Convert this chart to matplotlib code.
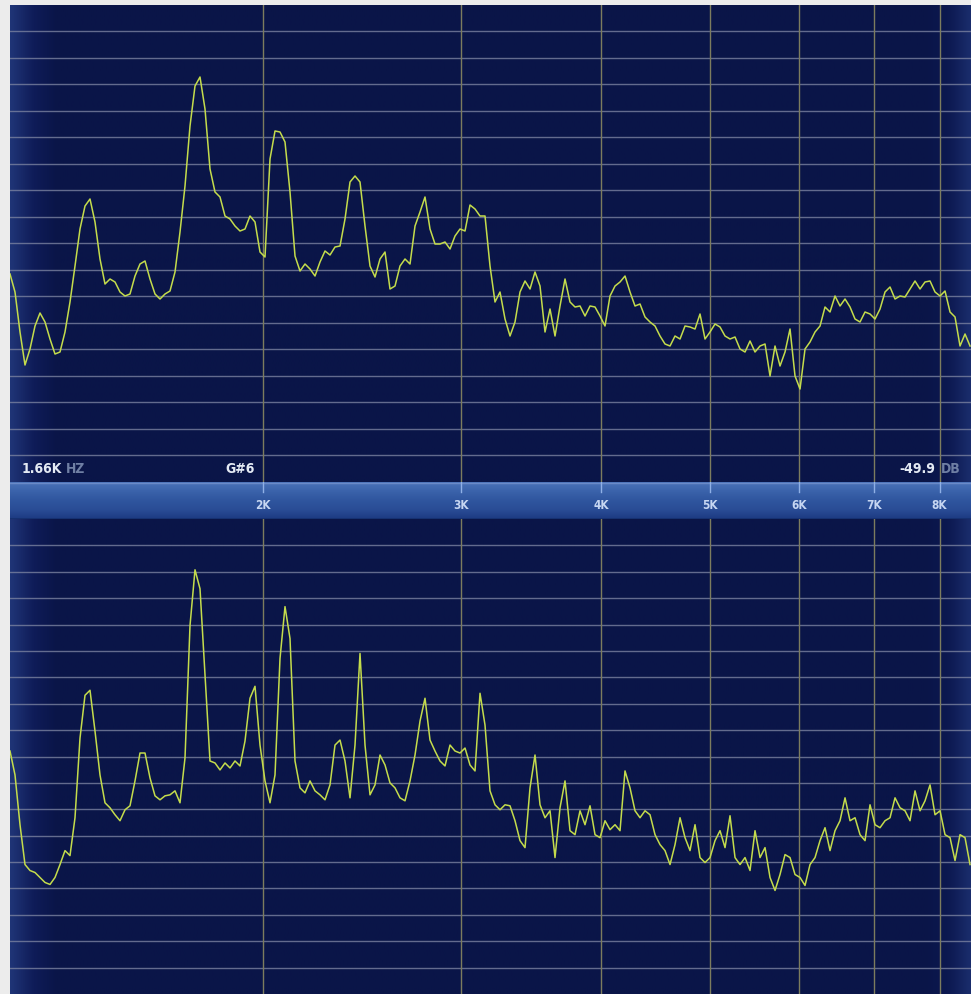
import numpy as np
import matplotlib
matplotlib.use("Agg")
import matplotlib.pyplot as plt
from matplotlib.colors import LinearSegmentedColormap

# analyzer bins (log spaced) and display span, Hz
F_LO, F_BIN_HI, F_HI = 1191.0, 8516.0, 8533.0

# upper trace: smoothed spectrum, dB
top_db = [
    -53.8, -57.4, -65.4, -72.0, -68.8, -64.2, -61.6, -63.4, -66.8, -69.8,
    -69.4, -65.4, -59.4, -52.2, -44.8, -40.2, -38.8, -43.4, -50.8, -55.8,
    -54.8, -55.4, -57.4, -58.2, -57.8, -54.2, -51.8, -51.2, -54.8, -57.8,
    -58.8, -57.8, -57.2, -53.4, -45.4, -36.2, -24.2, -16.2, -14.4, -20.8,
    -32.8, -37.4, -38.4, -42.2, -42.8, -44.2, -45.2, -44.8, -42.2, -43.4,
    -49.4, -50.4, -30.8, -25.2, -25.4, -27.4, -37.4, -50.2, -53.2, -51.8,
    -52.8, -54.2, -51.4, -49.2, -50.0, -48.4, -48.2, -42.8, -35.4, -34.2,
    -35.4, -44.2, -52.2, -54.4, -50.8, -49.4, -56.8, -56.2, -52.2, -50.8,
    -51.8, -44.2, -41.4, -38.4, -44.8, -47.8, -47.8, -47.4, -48.8, -46.2,
    -44.8, -45.2, -40.0, -40.8, -42.2, -42.2, -52.2, -59.4, -57.4, -62.8,
    -66.2, -63.4, -57.4, -55.2, -56.8, -53.4, -56.2, -65.4, -60.8, -66.2,
    -60.2, -54.8, -59.4, -60.4, -60.2, -62.2, -60.2, -60.4, -62.2, -64.2,
    -58.2, -56.2, -55.4, -54.2, -57.4, -60.2, -59.8, -62.4, -63.4, -64.2,
    -66.2, -67.8, -68.2, -66.2, -66.8, -64.2, -64.4, -64.8, -61.8, -66.8,
    -65.4, -63.8, -64.4, -66.2, -66.8, -66.4, -68.8, -69.4, -67.2, -69.4,
    -68.2, -67.8, -74.2, -68.2, -72.2, -69.4, -64.8, -74.2, -76.8, -68.8,
    -67.4, -65.4, -64.2, -60.4, -61.4, -58.2, -60.2, -58.8, -60.4, -62.8,
    -63.4, -61.4, -61.8, -62.8, -60.8, -57.4, -56.4, -58.8, -58.2, -58.4,
    -56.8, -55.2, -56.8, -55.4, -55.2, -57.4, -58.2, -57.2, -61.4, -62.4,
    -68.2, -65.8, -68.2,
]

# lower trace: sharper spectrum, dB
bottom_db = [
    -46.6, -51.4, -61.4, -69.4, -70.6, -71.0, -72.0, -73.0, -73.4, -72.0,
    -69.4, -66.6, -67.6, -60.0, -44.0, -35.4, -34.4, -42.6, -51.4, -57.0,
    -58.0, -59.4, -60.6, -58.4, -57.6, -52.6, -47.0, -47.0, -52.0, -55.6,
    -56.4, -55.6, -55.4, -54.6, -57.0, -48.0, -21.4, -10.2, -14.0, -31.4,
    -48.6, -49.0, -50.4, -49.0, -50.0, -48.6, -49.6, -44.6, -36.0, -33.6,
    -45.4, -52.6, -57.0, -51.4, -28.0, -17.6, -24.0, -48.6, -54.0, -55.0,
    -52.6, -54.6, -55.4, -56.4, -53.4, -45.4, -44.4, -48.6, -56.0, -45.4,
    -27.0, -45.4, -55.4, -53.4, -47.4, -49.4, -53.0, -54.0, -56.0, -56.6,
    -52.6, -47.4, -40.6, -36.0, -44.4, -46.6, -48.6, -49.6, -45.4, -46.6,
    -47.0, -46.0, -49.4, -50.6, -35.0, -41.4, -54.6, -57.4, -58.4, -57.4,
    -57.6, -60.6, -64.6, -66.0, -54.0, -47.4, -57.4, -60.0, -58.6, -68.0,
    -58.0, -52.6, -62.6, -63.4, -58.6, -61.4, -57.6, -63.4, -64.0, -60.6,
    -62.4, -61.4, -62.6, -50.6, -54.0, -58.6, -60.0, -58.6, -59.4, -63.4,
    -65.4, -66.6, -69.4, -65.4, -60.0, -64.0, -66.6, -61.4, -68.0, -69.0,
    -68.0, -64.6, -62.6, -66.0, -59.6, -68.0, -69.4, -68.0, -70.6, -62.6,
    -68.0, -66.0, -72.0, -74.6, -71.4, -67.4, -68.0, -71.4, -72.0, -73.6,
    -69.4, -68.0, -64.6, -62.0, -66.6, -62.6, -60.6, -56.0, -60.6, -60.0,
    -63.4, -64.6, -57.4, -61.4, -62.0, -60.6, -60.0, -56.0, -58.0, -58.6,
    -60.6, -54.6, -58.6, -56.6, -53.4, -59.4, -58.6, -63.4, -64.0, -68.6,
    -63.4, -64.0, -69.4,
]

freq_ticks = [2000, 3000, 4000, 5000, 6000, 7000, 8000]
freq_labels = ["2K", "3K", "4K", "5K", "6K", "7K", "8K"]

readout_freq, readout_unit = "1.66K", "HZ"
readout_note = "G#6"
readout_level, level_unit = "-49.9", "DB"

DB_MIN, GRID_DB, N_GRID = -95.4, 5.3, 17

W, H = 971, 995
FONT = dict(family=["DejaVu Sans"], fontweight="bold", fontstretch="condensed")
LINE_COL = "#c4dc4c"

fig = plt.figure(figsize=(W / 100, H / 100), dpi=100, facecolor="#ececec")


def px_axes(x0, y0, x1, y1):
    return fig.add_axes([x0 / W, 1 - y1 / H, (x1 - x0) / W, (y1 - y0) / H])


navy = LinearSegmentedColormap.from_list(
    "navy", ["#1f3476", "#0f1c58", "#0a1548", "#0a1548", "#0c1850", "#1a2d6c"])
grad_x = np.concatenate([np.linspace(0, 0.4, 22), np.full(400, 0.5),
                         np.linspace(0.6, 1.0, 22)])


def panel(ax, trace):
    ax.set_xscale("log")
    ax.set_xlim(F_LO, F_HI)
    ax.set_ylim(DB_MIN, 0)
    ax.imshow(grad_x[None, :], cmap=navy, vmin=0, vmax=1, aspect="auto",
              extent=[0, 1, 0, 1], transform=ax.transAxes, zorder=0)
    for k in range(1, N_GRID + 1):
        ax.axhline(-GRID_DB * k, color="#7a82a0", lw=1.0, alpha=0.8, zorder=1)
    for f in freq_ticks:
        ax.axvline(f, color="#7c7c5e", lw=1.0, zorder=1)
    freqs = np.geomspace(F_LO, F_BIN_HI, len(trace))
    ax.plot(freqs, trace, color=LINE_COL, lw=1.1, zorder=3)
    ax.set_xticks([])
    ax.set_yticks([])
    ax.minorticks_off()
    for s in ax.spines.values():
        s.set_visible(False)


ax_top = px_axes(10, 6, W, 483)
panel(ax_top, top_db)

ax_bot = px_axes(10, 520, W, H)
panel(ax_bot, bottom_db)

# readouts in the bottom row of the upper panel
ty = DB_MIN + 2.7
t_freq = ax_top.text(1220, ty, readout_freq, color="#e4eaf4", fontsize=10,
                     va="center", ha="left", zorder=4, **FONT)
ax_top.annotate(readout_unit, xy=(1, 0.5), xycoords=t_freq, xytext=(3, 0),
                textcoords="offset points", color="#6f7fa4", fontsize=10,
                va="center", ha="left", zorder=4, **FONT)
ax_top.text(1965, ty, readout_note, color="#e4eaf4", fontsize=10,
            va="center", ha="right", zorder=4, **FONT)
ax_top.text(7926, ty, readout_level, color="#e4eaf4", fontsize=10,
            va="center", ha="right", zorder=4, **FONT)
ax_top.text(8030, ty, level_unit, color="#6f7fa4", fontsize=10,
            va="center", ha="left", zorder=4, **FONT)

# frequency band
ax_band = px_axes(10, 483, W, 520)
ax_band.set_xscale("log")
ax_band.set_xlim(F_LO, F_HI)
ax_band.set_ylim(0, 1)
band = LinearSegmentedColormap.from_list(
    "band", ["#1d3a82", "#2a4d96", "#2f559e", "#3a62aa", "#4a72b8"])
ax_band.imshow(np.linspace(0, 1, 50)[:, None], cmap=band, aspect="auto",
               extent=[0, 1, 0, 1], transform=ax_band.transAxes, origin="lower",
               zorder=0)
ax_band.axhline(0.985, color="#6a8ac8", lw=1.0)
ax_band.axhline(0.01, color="#15306e", lw=1.2)
for f, lab in zip(freq_ticks, freq_labels):
    ax_band.plot([f, f], [0.72, 1.0], color="#8fb0e6", lw=1.0)
    ax_band.text(f, 0.38, lab, color="#c6d6f2", fontsize=8.5,
                 ha="center", va="center", **FONT)
ax_band.set_xticks([])
ax_band.set_yticks([])
ax_band.minorticks_off()
for s in ax_band.spines.values():
    s.set_visible(False)

fig.savefig("out.png", dpi=100, facecolor=fig.get_facecolor())
